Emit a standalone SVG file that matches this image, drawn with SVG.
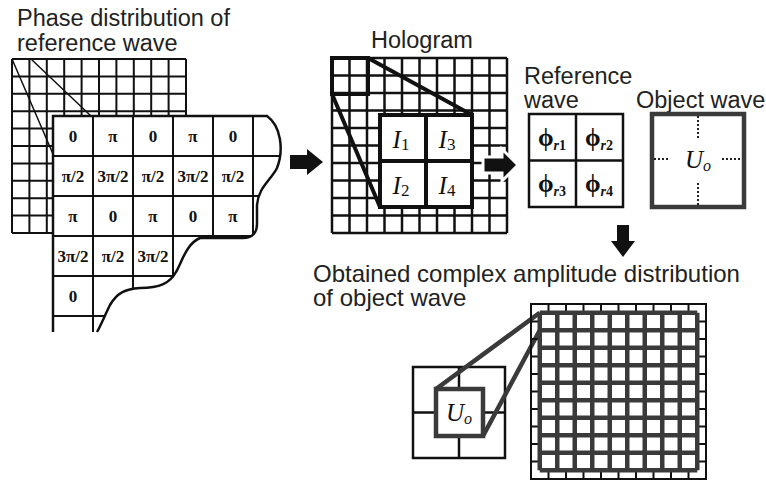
<svg xmlns="http://www.w3.org/2000/svg" width="766" height="481" viewBox="0 0 766 481">
<style>
.lbl{font-family:"Liberation Sans",Arial,sans-serif;font-size:23.5px;fill:#222}
.ph{font-family:"Liberation Serif","Times New Roman",serif;font-weight:bold;font-size:17px;fill:#111;text-anchor:middle}
.thin{fill:none;stroke:#111;stroke-width:2}
.blk{fill:none;stroke:#111;stroke-width:2.5}
.thick{fill:none;stroke:#111;stroke-width:4}
.gray{fill:none;stroke:#3a3a3a;stroke-width:4.5}
.sym{font-family:"Liberation Serif","Times New Roman",serif;font-size:25px;fill:#111;text-anchor:middle}
.it{font-style:italic}
.arrow{fill:#111}
</style>
<defs>
<clipPath id="front">
<path d="M53,116 H267 C281,126 284,150 277,168 C271,180 258,188 257,205 L257,224 C257,233 252,238 243,238 L200,238 C186,244 182,262 176,272 C170,283 160,288 140,288 C125,289 117,293 110,305 C105,315 101,325 97,332 L53,332 Z"/>
</clipPath>
</defs>

<g id="title-phase">
<text class="lbl" x="17" y="26">Phase distribution of</text>
<text class="lbl" x="17" y="51">reference wave</text>
</g>

<g id="phase-back-grid">
<path class="thin" d="M12 59V233M29.4 59V233M46.8 59V233M64.2 59V233M81.6 59V233M99 59V233M116.4 59V233M133.8 59V233M151.2 59V233M168.6 59V233M186 59V233M12 59H186M12 76.4H186M12 93.8H186M12 111.2H186M12 128.6H186M12 146H186M12 163.4H186M12 180.8H186M12 198.2H186M12 215.6H186M12 233H186"/>
<path fill="none" stroke="#111" stroke-width="1.5" d="M12 59L53 154M31 59L91 116"/>
</g>

<g id="phase-front-table">
<path fill="#fff" d="M53,116 H267 C281,126 284,150 277,168 C271,180 258,188 257,205 L257,224 C257,233 252,238 243,238 L200,238 C186,244 182,262 176,272 C170,283 160,288 140,288 C125,289 117,293 110,305 C105,315 101,325 97,332 L53,332 Z"/>
<g clip-path="url(#front)">
<path class="thin" d="M93 116V340M133 116V340M173 116V340M213 116V340M253 116V340M53 156H290M53 196H290M53 236H290M53 276H290M53 316H290"/>
</g>
<path class="blk" d="M53,332 V116 H267 C281,126 284,150 277,168 C271,180 258,188 257,205 L257,224 C257,233 252,238 243,238 L200,238 C186,244 182,262 176,272 C170,283 160,288 140,288 C125,289 117,293 110,305 C105,315 101,325 97,332"/>
<text class="ph" x="73" y="142">0</text>
<text class="ph" x="113" y="142">π</text>
<text class="ph" x="153" y="142">0</text>
<text class="ph" x="193" y="142">π</text>
<text class="ph" x="233" y="142">0</text>
<text class="ph" x="73" y="182">π/2</text>
<text class="ph" x="113" y="182">3π/2</text>
<text class="ph" x="153" y="182">π/2</text>
<text class="ph" x="193" y="182">3π/2</text>
<text class="ph" x="233" y="182">π/2</text>
<text class="ph" x="73" y="222">π</text>
<text class="ph" x="113" y="222">0</text>
<text class="ph" x="153" y="222">π</text>
<text class="ph" x="193" y="222">0</text>
<text class="ph" x="233" y="222">π</text>
<text class="ph" x="73" y="262">3π/2</text>
<text class="ph" x="113" y="262">π/2</text>
<text class="ph" x="153" y="262">3π/2</text>
<text class="ph" x="73" y="302">0</text>
</g>

<g id="hologram">
<text class="lbl" x="371" y="48">Hologram</text>
<path class="blk" d="M332 58V233M349.5 58V233M367 58V233M384.5 58V233M402 58V233M419.5 58V233M437 58V233M454.5 58V233M472 58V233M489.5 58V233M507 58V233M332 58H507M332 75.5H507M332 93H507M332 110.5H507M332 128H507M332 145.5H507M332 163H507M332 180.5H507M332 198H507M332 215.5H507M332 233H507"/>
<path class="thick" d="M368 58L472 115M332 94L380 207"/>
<rect class="thick" x="332" y="58" width="36" height="36"/>
<rect fill="#fff" stroke="#111" stroke-width="4" x="380" y="115" width="92" height="92"/>
<path class="thick" d="M426 115V207M380 161H472"/>
<text class="sym" x="401" y="148"><tspan class="it">I</tspan><tspan font-size="17" dy="2">1</tspan></text>
<text class="sym" x="447" y="148"><tspan class="it">I</tspan><tspan font-size="17" dy="2">3</tspan></text>
<text class="sym" x="401" y="194"><tspan class="it">I</tspan><tspan font-size="17" dy="2">2</tspan></text>
<text class="sym" x="447" y="194"><tspan class="it">I</tspan><tspan font-size="17" dy="2">4</tspan></text>
</g>

<g id="reference-wave">
<text class="lbl" x="524" y="84">Reference</text>
<text class="lbl" x="524" y="108">wave</text>
<rect class="blk" x="529" y="114" width="94" height="93"/>
<path class="blk" d="M576 114V207M529 160.5H623"/>
<text class="sym" x="552" y="146" font-weight="bold">ϕ<tspan class="it" font-size="14" dy="4">r</tspan><tspan font-size="14">1</tspan></text>
<text class="sym" x="599" y="146" font-weight="bold">ϕ<tspan class="it" font-size="14" dy="4">r</tspan><tspan font-size="14">2</tspan></text>
<text class="sym" x="552" y="192" font-weight="bold">ϕ<tspan class="it" font-size="14" dy="4">r</tspan><tspan font-size="14">3</tspan></text>
<text class="sym" x="599" y="192" font-weight="bold">ϕ<tspan class="it" font-size="14" dy="4">r</tspan><tspan font-size="14">4</tspan></text>
</g>

<g id="object-wave">
<text class="lbl" x="636" y="108">Object wave</text>
<rect class="gray" x="652" y="114" width="92" height="93"/>
<path fill="none" stroke="#222" stroke-width="2" stroke-dasharray="2,2" d="M698 116V138M698 183V205M654 159H670M722 159H742"/>
<text class="sym" x="698" y="168"><tspan class="it">U</tspan><tspan class="it" font-size="16" dy="3">o</tspan></text>
</g>

<g id="result">
<text class="lbl" x="313" y="282" style="font-size:24px">Obtained complex amplitude distribution</text>
<text class="lbl" x="313" y="306" style="font-size:24px">of object wave</text>
<rect class="blk" x="413" y="367" width="92" height="91"/>
<path class="blk" d="M459 367V458M413 412.5H505"/>
<path class="gray" d="M436 389L539.75 312.75M483 436L539.75 330.25"/>
<rect fill="#fff" stroke="#3a3a3a" stroke-width="4.5" x="436" y="389" width="47" height="47"/>
<text class="sym" x="459" y="421"><tspan class="it">U</tspan><tspan class="it" font-size="16" dy="3">o</tspan></text>
<rect class="thin" x="531" y="304" width="175" height="175"/>
<path class="thin" d="M548.5 304V479M566 304V479M583.5 304V479M601 304V479M618.5 304V479M636 304V479M653.5 304V479M671 304V479M688.5 304V479M531 321.5H706M531 339H706M531 356.5H706M531 374H706M531 391.5H706M531 409H706M531 426.5H706M531 444H706M531 461.5H706"/>
<rect fill="#fff" x="539.75" y="312.75" width="157.5" height="157.5"/>
<path class="gray" d="M539.75 312.75V470.25M557.25 312.75V470.25M574.75 312.75V470.25M592.25 312.75V470.25M609.75 312.75V470.25M627.25 312.75V470.25M644.75 312.75V470.25M662.25 312.75V470.25M679.75 312.75V470.25M697.25 312.75V470.25M539.75 312.75H697.25M539.75 330.25H697.25M539.75 347.75H697.25M539.75 365.25H697.25M539.75 382.75H697.25M539.75 400.25H697.25M539.75 417.75H697.25M539.75 435.25H697.25M539.75 452.75H697.25M539.75 470.25H697.25"/>
</g>

<g id="connectors">
<path class="arrow" d="M290 155H307V149L323 162L307 175V169H290Z"/>
<path class="arrow" stroke="#fff" stroke-width="3" d="M483 157H502V149L518 165L502 181V173H483Z"/>
<path class="arrow" d="M617 225H629V241H635L623 257L611 241H617Z"/>
</g>
</svg>
